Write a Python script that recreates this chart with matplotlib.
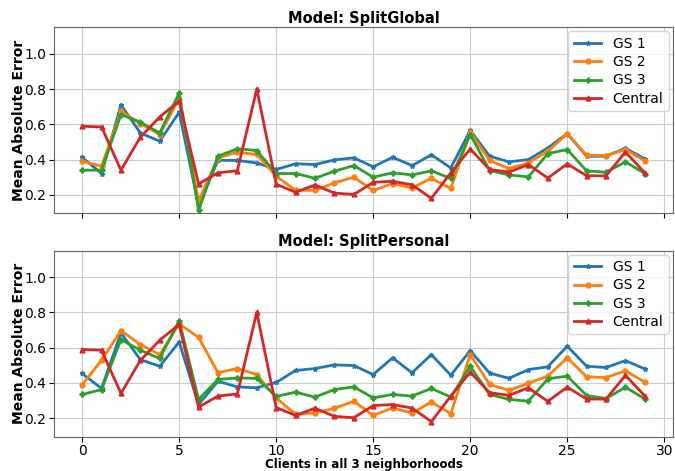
import numpy as np
import matplotlib
matplotlib.use("Agg")
import matplotlib.pyplot as plt

clients = np.arange(30)

# Model: SplitGlobal
glob_gs1 = [0.413, 0.321, 0.710, 0.551, 0.504, 0.668, 0.140, 0.396, 0.395, 0.381,
            0.344, 0.376, 0.372, 0.398, 0.410, 0.359, 0.413, 0.366, 0.427, 0.353,
            0.565, 0.419, 0.387, 0.400, 0.466, 0.547, 0.419, 0.419, 0.464, 0.404]
glob_gs2 = [0.391, 0.362, 0.674, 0.604, 0.542, 0.745, 0.164, 0.410, 0.442, 0.429,
            0.306, 0.226, 0.226, 0.268, 0.300, 0.225, 0.264, 0.240, 0.293, 0.236,
            0.555, 0.395, 0.349, 0.381, 0.447, 0.547, 0.425, 0.423, 0.457, 0.393]
glob_gs3 = [0.340, 0.340, 0.655, 0.612, 0.551, 0.778, 0.113, 0.419, 0.462, 0.451,
            0.321, 0.321, 0.294, 0.334, 0.366, 0.300, 0.325, 0.313, 0.336, 0.293,
            0.542, 0.338, 0.313, 0.302, 0.434, 0.457, 0.336, 0.328, 0.387, 0.321]

# Model: SplitPersonal
pers_gs1 = [0.453, 0.368, 0.683, 0.532, 0.494, 0.632, 0.277, 0.409, 0.377, 0.372,
            0.402, 0.470, 0.481, 0.502, 0.498, 0.447, 0.542, 0.457, 0.560, 0.443,
            0.583, 0.455, 0.426, 0.475, 0.491, 0.608, 0.494, 0.487, 0.526, 0.479]
pers_gs2 = [0.389, 0.528, 0.696, 0.617, 0.560, 0.734, 0.658, 0.458, 0.481, 0.447,
            0.315, 0.221, 0.230, 0.255, 0.296, 0.215, 0.258, 0.228, 0.291, 0.226,
            0.560, 0.391, 0.357, 0.398, 0.438, 0.542, 0.434, 0.430, 0.468, 0.404]
pers_gs3 = [0.334, 0.362, 0.645, 0.585, 0.538, 0.753, 0.306, 0.419, 0.428, 0.425,
            0.323, 0.347, 0.319, 0.362, 0.377, 0.315, 0.334, 0.325, 0.368, 0.319,
            0.494, 0.334, 0.306, 0.296, 0.423, 0.438, 0.328, 0.311, 0.375, 0.309]

# central model is the same in both panels
central = [0.589, 0.585, 0.340, 0.527, 0.642, 0.731, 0.262, 0.325, 0.337, 0.800,
           0.260, 0.215, 0.256, 0.210, 0.202, 0.271, 0.277, 0.257, 0.180, 0.325,
           0.460, 0.344, 0.329, 0.372, 0.295, 0.376, 0.308, 0.308, 0.443, 0.325]

labels = ['GS 1', 'GS 2', 'GS 3', 'Central']
markers = ['*', 'o', 'P', '^']
colors = ['tab:blue', 'tab:orange', 'tab:green', 'tab:red']

panels = [('Model: SplitGlobal', [glob_gs1, glob_gs2, glob_gs3, central]),
          ('Model: SplitPersonal', [pers_gs1, pers_gs2, pers_gs3, central])]

fig, axes = plt.subplots(2, 1, figsize=(6.75, 4.71), dpi=100, sharex=True, sharey=True)
fig.subplots_adjust(left=0.08, right=0.997, top=0.942, bottom=0.073, hspace=0.2)

for ax, (title, series) in zip(axes, panels):
    for ys, lab, m, c in zip(series, labels, markers, colors):
        ax.plot(clients, ys, marker=m, markersize=3.5, linewidth=2, color=c, label=lab)
    ax.set_title(title, fontsize=10.5, fontweight='bold', pad=3)
    ax.set_ylabel('Mean Absolute Error', fontsize=10, fontweight='bold', labelpad=-1)
    ax.grid(True, color='0.8')
    ax.tick_params(labelsize=10, pad=2)
    ax.legend(loc='upper right', fontsize=10, handlelength=2.0, labelspacing=0.3,
              borderaxespad=0.3)
    for s in ax.spines.values():
        s.set_color('0.4')

axes[0].set_ylim(0.095, 1.15)
axes[0].set_yticks([0.2, 0.4, 0.6, 0.8, 1.0])
axes[1].set_xticks([0, 5, 10, 15, 20, 25, 30])
axes[1].set_xlabel('Clients in all 3 neighborhoods', fontsize=8.5, fontweight='bold', labelpad=0)

fig.savefig('out.png')
